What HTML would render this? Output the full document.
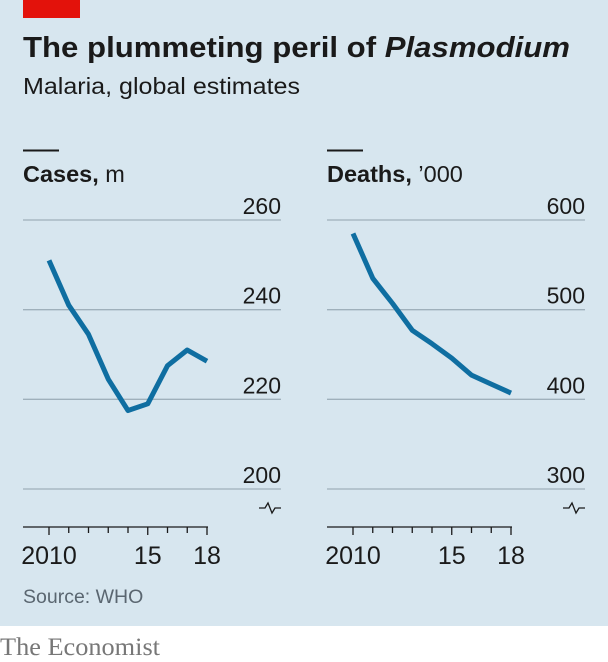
<!DOCTYPE html>
<html><head><meta charset="utf-8"><style>
body{margin:0;background:#fff;font-family:"Liberation Sans",sans-serif}
svg{display:block}
</style></head><body>
<svg width="608" height="662" viewBox="0 0 608 662">
<rect x="0" y="0" width="608" height="626" fill="#d7e6ef"/>
<rect x="23" y="0" width="57" height="18" fill="#e3120b"/>
<text x="23" y="57" font-size="29" font-weight="bold" fill="#1a1a1a" textLength="547" lengthAdjust="spacingAndGlyphs">The plummeting peril of <tspan font-style="italic">Plasmodium</tspan></text>
<text x="23" y="94" font-size="23" fill="#1a1a1a" textLength="277" lengthAdjust="spacingAndGlyphs">Malaria, global estimates</text>
<g id="left"></g>
<g id="right"></g>
<text x="23" y="603" font-size="19.5" fill="#5a6670">Source: WHO</text>
<text x="0" y="655" font-size="25" fill="#777" font-family="Liberation Serif,serif" textLength="160" lengthAdjust="spacingAndGlyphs">The Economist</text>
</svg>
<script>
const years=[2010,2011,2012,2013,2014,2015,2016,2017,2018];
const cases=[251,241,234.5,224.5,217.5,219,227.5,231,228.5];
const deaths=[585,535,507,477,462,446,427,417,407];
const casesTicks=[200,220,240,260];
const deathsTicks=[300,400,500,600];
const xLabels=["2010","15","18"];
const xLabelYears=[2010,2015,2018];
const NS="http://www.w3.org/2000/svg";
function mk(p,t,a){const e=document.createElementNS(NS,t);for(const k in a)e.setAttribute(k,a[k]);p.appendChild(e);return e;}
function panel(g,ox,title,unit,vals,ticks){
  const x0=ox+26,x1=ox+184;
  const gl=ox,gr=ox+258;
  const lo=ticks[0],hi=ticks[ticks.length-1];
  const xs=y=>x0+(y-2010)*(x1-x0)/8;
  const ys=v=>489-(v-lo)*(489-220)/(hi-lo);
  const l=mk(g,'line',{x1:gl,x2:gl+36,y1:150.5,y2:150.5,stroke:'#1a1a1a','stroke-width':2});
  
  
  const t=mk(g,'text',{x:gl,y:182,'font-size':23.5,fill:'#1a1a1a'});
  t.innerHTML='<tspan font-weight="bold">'+title+',</tspan> '+unit;
  
  
  ticks.forEach(v=>{
    const ln=mk(g,'line',{x1:gl,x2:gr,y1:ys(v),y2:ys(v),stroke:'#9fb0bb','stroke-width':1.3});
    
    
    const tx=mk(g,'text',{x:gr,y:ys(v)-6,'font-size':23,fill:'#1a1a1a','text-anchor':'end'});
    tx.textContent=v;
    
    
  });
  const br=mk(g,'path',{d:`M${gr-22} 508 h6 l3 -5 l4 10 l3 -5 h6`,fill:'none',stroke:'#1a1a1a','stroke-width':1.3});
  
  
  const ax=mk(g,'line',{x1:gl,x2:x1+1,y1:527,y2:527,stroke:'#1a1a1a','stroke-width':1.3});
  
  
  years.forEach(y=>{
    const tk=mk(g,'line',{x1:xs(y),x2:xs(y),y1:527,y2:(y%5==0||y==2018)?535:533,stroke:'#1a1a1a','stroke-width':1.3});
    
    
  });
  xLabels.forEach((s,i)=>{
    const tx=mk(g,'text',{x:xs(xLabelYears[i]),y:564,'font-size':25,fill:'#1a1a1a','text-anchor':'middle'});
    tx.textContent=s;
    
    
  });
  const pl=mk(g,'polyline',{points:vals.map((v,i)=>xs(years[i])+','+ys(v)).join(' '),fill:'none',stroke:'#0f6ea1','stroke-width':5,'stroke-linejoin':'round'});
  
  
}
panel(document.getElementById('left'),23,'Cases','m',cases,casesTicks);
panel(document.getElementById('right'),327,'Deaths','\u2019000',deaths,deathsTicks);
</script>
</body></html>
